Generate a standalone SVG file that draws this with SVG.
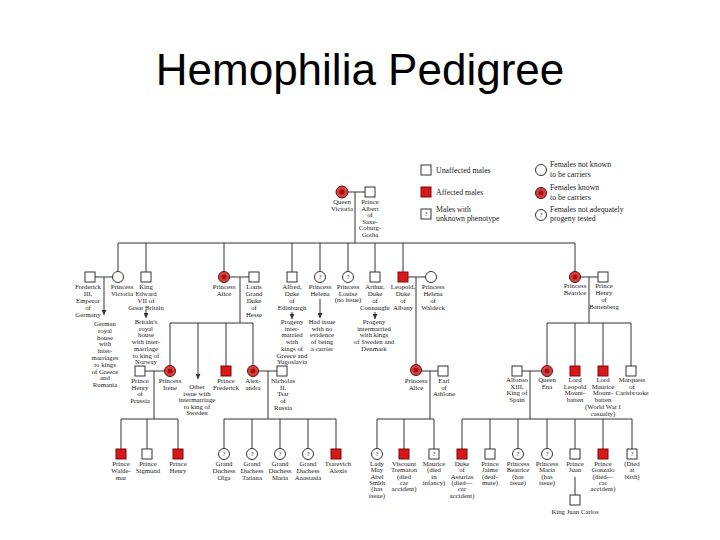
<svg xmlns="http://www.w3.org/2000/svg" width="720" height="540" viewBox="0 0 720 540">
<style>
.l{stroke:#333;stroke-width:1;fill:none}
.m{fill:#fff;stroke:#333;stroke-width:1}
.a{fill:#d81818;stroke:#7a0a0a;stroke-width:1}
.f{fill:#fff;stroke:#333;stroke-width:1}
.c{fill:#d84040;stroke:#5a1010;stroke-width:1}
.ci{fill:#a81010}
.t{font-family:"Liberation Serif",serif;font-size:6.8px;fill:#222;text-anchor:middle}
.q{font-family:"Liberation Serif",serif;font-size:6px;fill:#222;text-anchor:middle}
.lg{font-family:"Liberation Serif",serif;font-size:7.8px;fill:#222}
.title{font-family:"Liberation Sans",Arial,sans-serif;font-size:44px;fill:#000;text-anchor:middle}
</style>
<defs>
<marker id="ad" viewBox="0 0 6 6" refX="3" refY="6" markerWidth="5" markerHeight="5" markerUnits="userSpaceOnUse">
<path d="M0,0 L3,6 L6,0 Z" fill="#333"/>
</marker>
</defs>
<rect width="720" height="540" fill="#fff"/>
<text class="title" x="360" y="85">Hemophilia Pedigree</text>

<g id="legend">
<rect class="m" x="421" y="165" width="10" height="10"/>
<text class="lg" x="436" y="173">Unaffected males</text>
<rect class="a" x="421" y="187" width="10" height="10"/>
<text class="lg" x="436" y="195">Affected males</text>
<rect class="m" x="421" y="209" width="10" height="10"/>
<text class="q" x="426" y="216">?</text>
<text class="lg" x="436" y="211.5">Males with</text>
<text class="lg" x="436" y="221">unknown phenotype</text>
<circle class="f" cx="541" cy="170" r="5.5"/>
<text class="lg" x="550" y="167">Females not known</text>
<text class="lg" x="550" y="176.5">to be carriers</text>
<circle class="c" cx="541" cy="193" r="5.5"/><circle class="ci" cx="541" cy="193" r="2.5"/>
<text class="lg" x="550" y="190">Females known</text>
<text class="lg" x="550" y="199.5">to be carriers</text>
<circle class="f" cx="541" cy="215" r="5.5"/>
<text class="q" x="541" y="217">?</text>
<text class="lg" x="550" y="211.5">Females not adequately</text>
<text class="lg" x="550" y="221">progeny tested</text>
</g>

<g id="connectors">
<path class="l" d="M342,192 H370 M355,192 V243 M118,243 H575"/>
<path class="l" d="M118,243 V271.5 M146,243 V272 M224,243 V271.5 M292,243 V272 M320,243 V271.5 M348,243 V271.5 M375,243 V272 M403,243 V272 M575,243 V271.5"/>
<path class="l" d="M90,277 H118 M224,277 H254 M403,277 H431 M575,277 H603"/>
<path class="l" d="M104,277 V315" marker-end="url(#ad)"/>
<path class="l" d="M146,310 V318" marker-end="url(#ad)"/>
<path class="l" d="M292,312 V319" marker-end="url(#ad)"/>
<path class="l" d="M320,299 V318" marker-end="url(#ad)"/>
<path class="l" d="M375,312 V319" marker-end="url(#ad)"/>
<path class="l" d="M240,277 V323 M170,323 H253 M170,323 V365.5 M226,323 V366 M253,323 V365.5"/>
<path class="l" d="M198,323 V379" marker-end="url(#ad)"/>
<path class="l" d="M416,277 V364.5"/>
<path class="l" d="M589,277 V323 M547,323 H631 M547,323 V365.5 M575,323 V366 M603,323 V366 M631,323 V366"/>
<path class="l" d="M140,371 H170 M154,371 V419 M121,419 H178 M121,419 V449 M147,419 V449 M178,419 V449"/>
<path class="l" d="M253,371 H282 M268,371 V419 M224,419 H336 M224,419 V448.5 M252,419 V448.5 M280,419 V448.5 M308,419 V448.5 M336,419 V449"/>
<path class="l" d="M416,371 H443 M430,371 V419 M377,419 H434 M377,419 V448.5 M404,419 V449 M434,419 V449"/>
<path class="l" d="M517,371 H547 M530,371 V419 M462,419 H632 M462,419 V449 M490,419 V449 M518,419 V448.5 M547,419 V448.5 M575,419 V449 M603,419 V449 M632,419 V449"/>
<path class="l" d="M575,477 V495" stroke="#999"/>
</g>

<g id="queen_victoria"><circle class="c" cx="342" cy="192" r="6"/><circle class="ci" cx="342" cy="192" r="2.7"/>
<text class="t" x="342" y="204"><tspan x="342">Queen</tspan><tspan x="342" dy="6.8">Victoria</tspan></text></g>
<g id="prince_albert"><rect class="m" x="365" y="187" width="10" height="10"/>
<text class="t" x="370" y="204"><tspan x="370">Prince</tspan><tspan x="370" dy="6.6">Albert</tspan><tspan x="370" dy="6.6">of</tspan><tspan x="370" dy="6.6">Saxe-</tspan><tspan x="370" dy="6.6">Coburg-</tspan><tspan x="370" dy="6.6">Gotha</tspan></text></g>

<g id="frederick_iii"><rect class="m" x="85" y="272" width="10" height="10"/>
<text class="t" y="289"><tspan x="88">Frederick</tspan><tspan x="88" dy="6.9">III,</tspan><tspan x="88" dy="6.9">Emperor</tspan><tspan x="88" dy="6.9">of</tspan><tspan x="88" dy="6.9">Germany</tspan></text></g>
<g id="princess_victoria"><circle class="f" cx="118" cy="277" r="5.5"/>
<text class="t" y="289"><tspan x="122">Princess</tspan><tspan x="122" dy="6.9">Victoria</tspan></text></g>
<g id="german_house"><text class="t" y="326"><tspan x="105">German</tspan><tspan x="105" dy="6.8">royal</tspan><tspan x="105" dy="6.8">house</tspan><tspan x="105" dy="6.8">with</tspan><tspan x="105" dy="6.8">inter-</tspan><tspan x="105" dy="6.8">marriages</tspan><tspan x="105" dy="6.8">to kings</tspan><tspan x="105" dy="6.8">of Greece</tspan><tspan x="105" dy="6.8">and</tspan><tspan x="105" dy="6.8">Rumania</tspan></text></g>
<g id="edward_vii"><rect class="m" x="141" y="272" width="10" height="10"/>
<text class="t" y="289"><tspan x="146">King</tspan><tspan x="146" dy="6.9">Edward</tspan><tspan x="146" dy="6.9">VII of</tspan><tspan x="146" dy="6.9">Great Britain</tspan></text></g>
<g id="british_house"><text class="t" y="324"><tspan x="146">Britain's</tspan><tspan x="146" dy="6.7">royal</tspan><tspan x="146" dy="6.7">house</tspan><tspan x="146" dy="6.7">with inter-</tspan><tspan x="146" dy="6.7">marriage</tspan><tspan x="146" dy="6.7">to king of</tspan><tspan x="146" dy="6.7">Norway</tspan></text></g>
<g id="princess_alice"><circle class="c" cx="224" cy="277" r="5.5"/><circle class="ci" cx="224" cy="277" r="2.5"/>
<text class="t" y="289"><tspan x="224">Princess</tspan><tspan x="224" dy="6.9">Alice</tspan></text></g>
<g id="louis_hesse"><rect class="m" x="249" y="272" width="10" height="10"/>
<text class="t" y="289"><tspan x="254">Louis</tspan><tspan x="254" dy="6.9">Grand</tspan><tspan x="254" dy="6.9">Duke</tspan><tspan x="254" dy="6.9">of</tspan><tspan x="254" dy="6.9">Hesse</tspan></text></g>
<g id="alfred"><rect class="m" x="287" y="272" width="10" height="10"/>
<text class="t" y="289"><tspan x="292">Alfred,</tspan><tspan x="292" dy="6.9">Duke</tspan><tspan x="292" dy="6.9">of</tspan><tspan x="292" dy="6.9">Edinburgh</tspan></text>
<text class="t" y="324"><tspan x="292">Progeny</tspan><tspan x="292" dy="6.7">inter-</tspan><tspan x="292" dy="6.7">married</tspan><tspan x="292" dy="6.7">with</tspan><tspan x="292" dy="6.7">kings of</tspan><tspan x="292" dy="6.7">Greece and</tspan><tspan x="292" dy="6.7">Yugoslavia</tspan></text></g>
<g id="princess_helena"><circle class="f" cx="320" cy="277" r="5.5"/><text class="q" x="320" y="279">?</text>
<text class="t" y="289"><tspan x="320">Princess</tspan><tspan x="320" dy="6.9">Helena</tspan></text>
<text class="t" y="324"><tspan x="322">Had issue</tspan><tspan x="322" dy="6.7">with no</tspan><tspan x="322" dy="6.7">evidence</tspan><tspan x="322" dy="6.7">of being</tspan><tspan x="322" dy="6.7">a carrier</tspan></text></g>
<g id="princess_louise"><circle class="f" cx="348" cy="277" r="5.5"/><text class="q" x="348" y="279">?</text>
<text class="t" y="289"><tspan x="348">Princess</tspan><tspan x="348" dy="6.9">Louise</tspan><tspan x="348" dy="6.4">(no issue)</tspan></text></g>
<g id="arthur"><rect class="m" x="370" y="272" width="10" height="10"/>
<text class="t" y="289"><tspan x="375">Arthur,</tspan><tspan x="375" dy="6.9">Duke</tspan><tspan x="375" dy="6.9">of</tspan><tspan x="375" dy="6.9">Connaught</tspan></text>
<text class="t" y="324"><tspan x="374">Progeny</tspan><tspan x="374" dy="6.7">intermarried</tspan><tspan x="374" dy="6.7">with kings</tspan><tspan x="374" dy="6.7">of Sweden and</tspan><tspan x="374" dy="6.7">Denmark</tspan></text></g>
<g id="leopold"><rect class="a" x="398" y="272" width="10" height="10"/>
<text class="t" y="289"><tspan x="403">Leopold,</tspan><tspan x="403" dy="6.9">Duke</tspan><tspan x="403" dy="6.9">of</tspan><tspan x="403" dy="6.9">Albany</tspan></text></g>
<g id="helena_waldeck"><circle class="f" cx="431" cy="277" r="5.5"/>
<text class="t" y="289"><tspan x="433">Princess</tspan><tspan x="433" dy="6.9">Helena</tspan><tspan x="433" dy="6.9">of</tspan><tspan x="433" dy="6.9">Waldeck</tspan></text></g>
<g id="princess_beatrice"><circle class="c" cx="575" cy="277" r="5.5"/><circle class="ci" cx="575" cy="277" r="2.5"/>
<text class="t" y="288"><tspan x="575">Princess</tspan><tspan x="575" dy="6.9">Beatrice</tspan></text></g>
<g id="henry_battenberg"><rect class="m" x="598" y="272" width="10" height="10"/>
<text class="t" y="288"><tspan x="604">Prince</tspan><tspan x="604" dy="6.9">Henry</tspan><tspan x="604" dy="6.9">of</tspan><tspan x="604" dy="6.9">Battenberg</tspan></text></g>

<g id="henry_prussia"><rect class="m" x="135" y="366" width="10" height="10"/>
<text class="t" y="383"><tspan x="140">Prince</tspan><tspan x="140" dy="6.7">Henry</tspan><tspan x="140" dy="6.7">of</tspan><tspan x="140" dy="6.7">Prussia</tspan></text></g>
<g id="princess_irene"><circle class="c" cx="170" cy="371" r="5.5"/><circle class="ci" cx="170" cy="371" r="2.5"/>
<text class="t" y="383"><tspan x="170">Princess</tspan><tspan x="170" dy="6.7">Irene</tspan></text></g>
<g id="other_issue"><text class="t" y="389"><tspan x="197">Other</tspan><tspan x="197" dy="6.6">issue with</tspan><tspan x="197" dy="6.6">intermarriage</tspan><tspan x="197" dy="6.6">to king of</tspan><tspan x="197" dy="6.6">Sweden</tspan></text></g>
<g id="prince_frederick"><rect class="a" x="221" y="366" width="10" height="10"/>
<text class="t" y="383"><tspan x="226">Prince</tspan><tspan x="226" dy="6.7">Frederick</tspan></text></g>
<g id="alix"><circle class="c" cx="253" cy="371" r="5.5"/><circle class="ci" cx="253" cy="371" r="2.5"/>
<text class="t" y="383"><tspan x="253">Alex-</tspan><tspan x="253" dy="6.7">andra</tspan></text></g>
<g id="nicholas_ii"><rect class="m" x="277" y="366" width="10" height="10"/>
<text class="t" y="383"><tspan x="283">Nicholas</tspan><tspan x="283" dy="6.7">II,</tspan><tspan x="283" dy="6.7">Tsar</tspan><tspan x="283" dy="6.7">of</tspan><tspan x="283" dy="6.7">Russia</tspan></text></g>
<g id="alice_athlone"><circle class="c" cx="416" cy="370" r="5.5"/><circle class="ci" cx="416" cy="370" r="2.5"/>
<text class="t" y="383"><tspan x="416">Princess</tspan><tspan x="416" dy="6.7">Alice</tspan></text></g>
<g id="earl_athlone"><rect class="m" x="438" y="366" width="10" height="10"/>
<text class="t" y="383"><tspan x="444">Earl</tspan><tspan x="444" dy="6.7">of</tspan><tspan x="444" dy="6.7">Athlone</tspan></text></g>
<g id="alfonso_xiii"><rect class="m" x="512" y="366" width="10" height="10"/>
<text class="t" y="382"><tspan x="517">Alfonso</tspan><tspan x="517" dy="6.7">XIII,</tspan><tspan x="517" dy="6.7">King of</tspan><tspan x="517" dy="6.7">Spain</tspan></text></g>
<g id="queen_ena"><circle class="c" cx="547" cy="371" r="5.5"/><circle class="ci" cx="547" cy="371" r="2.5"/>
<text class="t" y="382"><tspan x="547">Queen</tspan><tspan x="547" dy="6.7">Ena</tspan></text></g>
<g id="leopold_mountbatten"><rect class="a" x="570" y="366" width="10" height="10"/>
<text class="t" y="382"><tspan x="575">Lord</tspan><tspan x="575" dy="6.7">Leopold</tspan><tspan x="575" dy="6.7">Mount-</tspan><tspan x="575" dy="6.7">batten</tspan></text></g>
<g id="maurice_mountbatten"><rect class="a" x="598" y="366" width="10" height="10"/>
<text class="t" y="382"><tspan x="603">Lord</tspan><tspan x="603" dy="6.7">Maurice</tspan><tspan x="603" dy="6.7">Mount-</tspan><tspan x="603" dy="6.7">batten</tspan><tspan x="603" dy="6.7">(World War I</tspan><tspan x="603" dy="6.7">casualty)</tspan></text></g>
<g id="carisbrooke"><rect class="m" x="626" y="366" width="10" height="10"/>
<text class="t" y="382"><tspan x="632">Marquess</tspan><tspan x="632" dy="6.7">of</tspan><tspan x="632" dy="6.7">Carisbrooke</tspan></text></g>

<g id="waldemar"><rect class="a" x="116" y="449" width="10" height="10"/>
<text class="t" y="466"><tspan x="121">Prince</tspan><tspan x="121" dy="6.8">Walde-</tspan><tspan x="121" dy="6.8">mar</tspan></text></g>
<g id="sigmund"><rect class="m" x="142" y="449" width="10" height="10"/>
<text class="t" y="466"><tspan x="148">Prince</tspan><tspan x="148" dy="6.8">Sigmund</tspan></text></g>
<g id="prince_henry"><rect class="a" x="173" y="449" width="10" height="10"/>
<text class="t" y="466"><tspan x="178">Prince</tspan><tspan x="178" dy="6.8">Henry</tspan></text></g>
<g id="olga"><circle class="f" cx="224" cy="454" r="5.5"/><text class="q" x="224" y="456">?</text>
<text class="t" y="466"><tspan x="224">Grand</tspan><tspan x="224" dy="6.8">Duchess</tspan><tspan x="224" dy="6.8">Olga</tspan></text></g>
<g id="tatiana"><circle class="f" cx="252" cy="454" r="5.5"/><text class="q" x="252" y="456">?</text>
<text class="t" y="466"><tspan x="252">Grand</tspan><tspan x="252" dy="6.8">Duchess</tspan><tspan x="252" dy="6.8">Tatiana</tspan></text></g>
<g id="maria_r"><circle class="f" cx="280" cy="454" r="5.5"/><text class="q" x="280" y="456">?</text>
<text class="t" y="466"><tspan x="280">Grand</tspan><tspan x="280" dy="6.8">Duchess</tspan><tspan x="280" dy="6.8">Maria</tspan></text></g>
<g id="anastasia"><circle class="f" cx="308" cy="454" r="5.5"/><text class="q" x="308" y="456">?</text>
<text class="t" y="466"><tspan x="308">Grand</tspan><tspan x="308" dy="6.8">Duchess</tspan><tspan x="308" dy="6.8">Anastasia</tspan></text></g>
<g id="alexis"><rect class="a" x="331" y="449" width="10" height="10"/>
<text class="t" y="466"><tspan x="338">Tsarevich</tspan><tspan x="338" dy="6.8">Alexis</tspan></text></g>
<g id="lady_may"><circle class="f" cx="377" cy="454" r="5.5"/><text class="q" x="377" y="456">?</text>
<text class="t" y="466"><tspan x="377">Lady</tspan><tspan x="377" dy="6.3">May</tspan><tspan x="377" dy="6.3">Abel</tspan><tspan x="377" dy="6.3">Smith</tspan><tspan x="377" dy="6.3">(has</tspan><tspan x="377" dy="6.3">issue)</tspan></text></g>
<g id="trematon"><rect class="a" x="399" y="449" width="10" height="10"/>
<text class="t" y="466"><tspan x="404">Viscount</tspan><tspan x="404" dy="6.3">Trematon</tspan><tspan x="404" dy="6.3">(died</tspan><tspan x="404" dy="6.3">car</tspan><tspan x="404" dy="6.3">accident)</tspan></text></g>
<g id="maurice"><rect class="m" x="429" y="449" width="10" height="10"/><text class="q" x="434" y="456">?</text>
<text class="t" y="466"><tspan x="434">Maurice</tspan><tspan x="434" dy="6.3">(died</tspan><tspan x="434" dy="6.3">in</tspan><tspan x="434" dy="6.3">infancy)</tspan></text></g>
<g id="asturias"><rect class="a" x="457" y="449" width="10" height="10"/>
<text class="t" y="466"><tspan x="462">Duke</tspan><tspan x="462" dy="6.3">of</tspan><tspan x="462" dy="6.3">Asturias</tspan><tspan x="462" dy="6.3">(died—</tspan><tspan x="462" dy="6.3">car</tspan><tspan x="462" dy="6.3">accident)</tspan></text></g>
<g id="jaime"><rect class="m" x="485" y="449" width="10" height="10"/>
<text class="t" y="466"><tspan x="490">Prince</tspan><tspan x="490" dy="6.3">Jaime</tspan><tspan x="490" dy="6.3">(deaf-</tspan><tspan x="490" dy="6.3">mute)</tspan></text></g>
<g id="beatrice_spain"><circle class="f" cx="518" cy="454" r="5.5"/><text class="q" x="518" y="456">?</text>
<text class="t" y="466"><tspan x="518">Princess</tspan><tspan x="518" dy="6.3">Beatrice</tspan><tspan x="518" dy="6.3">(has</tspan><tspan x="518" dy="6.3">issue)</tspan></text></g>
<g id="maria_spain"><circle class="f" cx="547" cy="454" r="5.5"/><text class="q" x="547" y="456">?</text>
<text class="t" y="466"><tspan x="547">Princess</tspan><tspan x="547" dy="6.3">Maria</tspan><tspan x="547" dy="6.3">(has</tspan><tspan x="547" dy="6.3">issue)</tspan></text></g>
<g id="juan"><rect class="m" x="570" y="449" width="10" height="10"/>
<text class="t" y="466"><tspan x="575">Prince</tspan><tspan x="575" dy="6.3">Juan</tspan></text></g>
<g id="gonzalo"><rect class="a" x="598" y="449" width="10" height="10"/>
<text class="t" y="466"><tspan x="603">Prince</tspan><tspan x="603" dy="6.3">Gonzalo</tspan><tspan x="603" dy="6.3">(died—</tspan><tspan x="603" dy="6.3">car</tspan><tspan x="603" dy="6.3">accident)</tspan></text></g>
<g id="died_birth"><rect class="m" x="627" y="449" width="10" height="10"/><text class="q" x="632" y="456">?</text>
<text class="t" y="466"><tspan x="632">(Died</tspan><tspan x="632" dy="6.3">at</tspan><tspan x="632" dy="6.3">birth)</tspan></text></g>
<g id="juan_carlos"><rect class="m" x="570" y="495" width="10" height="10"/>
<text class="t" x="575" y="514">King Juan Carlos</text></g>
</svg>
